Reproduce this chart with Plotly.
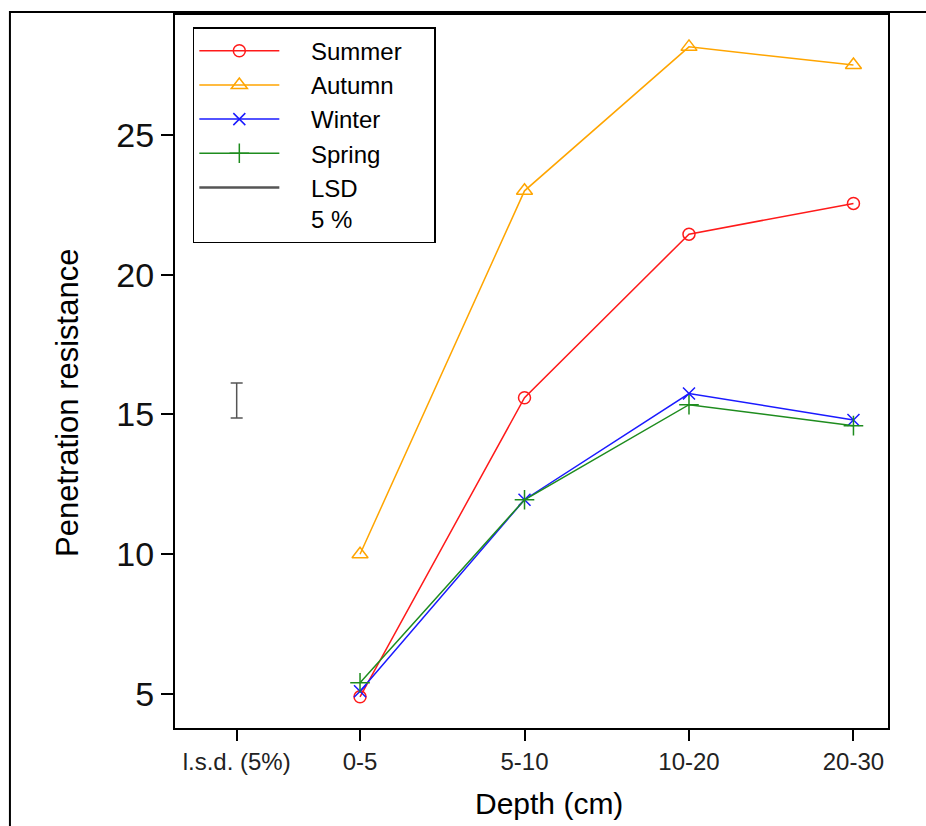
import plotly.graph_objects as go

# Soil penetration resistance by depth for each season
depth_labels = ["0-5", "5-10", "10-20", "20-30"]
depth_pos = [1, 2, 3, 4]

summer = [4.9, 15.6, 21.45, 22.55]
autumn = [10.0, 23.0, 28.15, 27.5]
winter = [5.1, 11.95, 15.75, 14.8]
spring = [5.4, 11.95, 15.35, 14.6]

# Least significant difference (5 %) shown as a bar at the left
lsd_pos = 0.25
lsd_center = 15.5
lsd_half = 0.63

tick_vals = [lsd_pos] + depth_pos
tick_text = ["l.s.d. (5%)"] + depth_labels

FONT = "Liberation Sans, Arial, sans-serif"
PAD = "\u00a0" * 4  # gap between legend key and its label
TAIL = "\u00a0" * 4  # extra room on the right of the legend box

series = [
    ("Summer", summer, "#FF1A1A", "circle-open", 12),
    ("Autumn", autumn, "#FFA500", "triangle-up-open", 14),
    ("Winter", winter, "#1A1AFF", "x-thin-open", 12),
    ("Spring", spring, "#1E8C1E", "cross-thin-open", 14),
]

fig = go.Figure()
for name, vals, color, symbol, size in series:
    fig.add_trace(go.Scatter(
        x=depth_pos, y=vals, name=PAD + name + TAIL, mode="lines+markers",
        line=dict(color=color, width=1.5),
        marker=dict(symbol=symbol, size=size, color=color,
                    line=dict(color=color, width=1.5)),
    ))

fig.add_trace(go.Scatter(
    x=[lsd_pos], y=[lsd_center], name=PAD + "LSD<br>" + PAD + "5 %",
    mode="lines",
    line=dict(color="#555555", width=2.5),
    error_y=dict(type="data", array=[lsd_half], symmetric=True,
                 color="#555555", thickness=1.5, width=6),
))

fig.update_layout(
    width=926, height=826,
    margin=dict(l=175, r=38, t=15, b=98),
    paper_bgcolor="white", plot_bgcolor="white",
    font=dict(family=FONT, color="black"),
    showlegend=True,
    legend=dict(
        x=0.025, y=0.983, xanchor="left", yanchor="top",
        bordercolor="black", borderwidth=1.5, bgcolor="white",
        font=dict(size=24, family=FONT, color="black"),
        valign="top", itemwidth=80, tracegroupgap=0,
    ),
    xaxis=dict(
        range=[-0.125, 4.21], tickmode="array",
        tickvals=tick_vals, ticktext=tick_text,
        ticks="outside", ticklen=11, tickwidth=2, tickcolor="black",
        tickfont=dict(size=24, color="#222222"),
        showline=True, linecolor="black", linewidth=2, mirror=True,
        showgrid=False, zeroline=False,
    ),
    yaxis=dict(
        range=[3.784, 29.29], tickmode="array", tickvals=[5, 10, 15, 20, 25],
        ticks="outside", ticklen=12, tickwidth=2, tickcolor="black",
        tickfont=dict(size=34, color="#111111"),
        showline=True, linecolor="black", linewidth=2, mirror=True,
        showgrid=False, zeroline=False,
    ),
    annotations=[
        dict(text="Depth (cm)", xref="paper", yref="paper",
             x=(549 - 175) / 713, y=(728 - 803) / 713,
             xanchor="center", yanchor="middle", showarrow=False,
             font=dict(size=30, family=FONT, color="black")),
        dict(text="Penetration resistance", xref="paper", yref="paper",
             x=(67 - 175) / 713, y=(728 - 403) / 713, textangle=-90,
             xanchor="center", yanchor="middle", showarrow=False,
             font=dict(size=31, family=FONT, color="black")),
    ],
    shapes=[dict(
        type="rect", xref="paper", yref="paper",
        x0=-0.2315, x1=1.3, y0=-0.3, y1=1.0042,
        line=dict(color="black", width=2), fillcolor="rgba(0,0,0,0)",
        layer="below",
    )],
)

fig.write_html("out.html")
